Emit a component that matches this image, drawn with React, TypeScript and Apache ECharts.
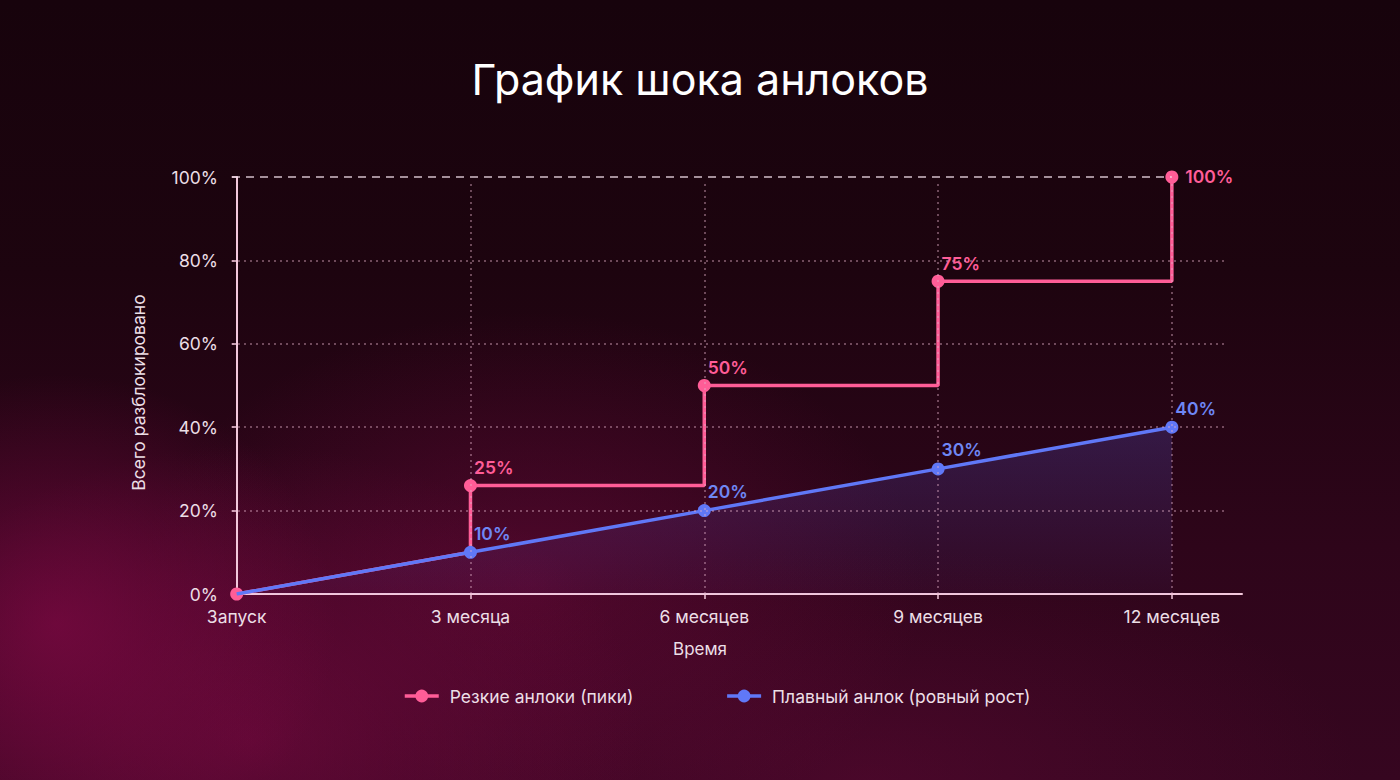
import { useEffect, useRef } from 'react';
import * as echarts from 'echarts';

const TITLE = 'График шока анлоков';
const X_NAME = 'Время';
const Y_NAME = 'Всего разблокировано';

// x axis: months since launch
const tickMonths = [0, 3, 6, 9, 12];
const tickLabels = ['Запуск', '3 месяца', '6 месяцев', '9 месяцев', '12 месяцев'];

// sharp unlocks: step path (vertical jumps at each cliff)
const SHARP_NAME = 'Резкие анлоки (пики)';
const sharpMonths = [0, 3, 3, 6, 6, 9, 9, 12, 12];
const sharpValues = [0, 10, 26, 26, 50, 50, 75, 75, 100];
const sharpDots = [true, false, true, false, true, false, true, false, true];
const sharpLabels = ['', '', '25%', '', '50%', '', '75%', '', '100%'];

// linear unlock
const SMOOTH_NAME = 'Плавный анлок (ровный рост)';
const smoothMonths = [0, 3, 6, 9, 12];
const smoothValues = [0, 10, 20, 30, 40];
const smoothLabels = ['', '10%', '20%', '30%', '40%'];

const gridValues = [20, 40, 60, 80];
const CAP_VALUE = 100;

const PINK = '#ff5d97';
const BLUE = '#6078f7';
const AXIS = '#f3c8dc';
const TEXT = '#ecdfe6';
const GUIDE = 'rgba(225, 175, 200, 0.55)';
const FONT = 'Inter';

const X_MIN = -0.06;
const X_MAX = 12.9;
const H_GUIDE_END = 12.7;
const V_GUIDE_TOP = 98.5;

export default function App() {
  const ref = useRef<HTMLDivElement | null>(null);

  useEffect(() => {
    if (!ref.current) return;
    const chart = echarts.init(ref.current, null, { renderer: 'svg' });

    const labelStyle = (color: string) => ({
      color,
      fontFamily: FONT,
      fontSize: 17.5,
      fontWeight: 600,
    });

    const guideLines = [
      ...gridValues.map(v => [
        { coord: [X_MIN, v], lineStyle: { color: GUIDE, type: [2, 4], width: 1.5 } },
        { coord: [H_GUIDE_END, v] },
      ]),
      ...tickMonths.slice(1).map(m => [
        { coord: [m, 0], lineStyle: { color: GUIDE, type: [2, 4], width: 1.5 } },
        { coord: [m, V_GUIDE_TOP] },
      ]),
      [
        { coord: [X_MIN, CAP_VALUE], lineStyle: { color: 'rgba(245,225,235,0.85)', type: [8, 6], width: 1.5 } },
        { coord: [tickMonths[tickMonths.length - 1], CAP_VALUE] },
      ],
    ];

    chart.setOption({
      backgroundColor: 'transparent',
      animation: false,
      title: {
        text: TITLE,
        left: 'center',
        top: 52,
        textStyle: { color: '#ffffff', fontFamily: FONT, fontSize: 43, fontWeight: 400 },
      },
      grid: { left: 232, right: 158, top: 177, bottom: 186 },
      legend: {
        data: [SHARP_NAME, SMOOTH_NAME],
        left: 398,
        top: 682,
        itemWidth: 34,
        itemHeight: 16,
        itemGap: 92,
        lineStyle: { width: 3.5 },
        textStyle: { color: TEXT, fontFamily: FONT, fontSize: 17.5, padding: [0, 0, 0, 6] },
      },
      graphic: [
        {
          type: 'text',
          x: 700,
          y: 649,
          style: {
            text: X_NAME,
            fill: TEXT,
            font: `17px ${FONT}`,
            textAlign: 'center',
            textVerticalAlign: 'middle',
          },
        },
      ],
      xAxis: {
        type: 'value',
        min: X_MIN,
        max: X_MAX,
        axisLine: { show: true, lineStyle: { color: AXIS, width: 2 } },
        axisTick: { show: true, length: 5, customValues: tickMonths, lineStyle: { color: AXIS, width: 1.5 } },
        axisLabel: {
          customValues: tickMonths,
          formatter: (v: number) => tickLabels[tickMonths.indexOf(v)] ?? '',
          color: TEXT,
          fontFamily: FONT,
          fontSize: 17.5,
          margin: 13,
        },
        splitLine: { show: false },
      },
      yAxis: {
        type: 'value',
        min: 0,
        max: 100,
        interval: 20,
        name: Y_NAME,
        nameLocation: 'middle',
        nameGap: 85,
        nameRotate: 90,
        nameTextStyle: { color: TEXT, fontFamily: FONT, fontSize: 17.5, padding: [0, 14, 0, 0] },
        axisLine: { show: true, lineStyle: { color: AXIS, width: 2 } },
        axisTick: { show: true, length: 5, lineStyle: { color: AXIS, width: 1.5 } },
        axisLabel: { formatter: '{value}%', color: TEXT, fontFamily: FONT, fontSize: 17.5, margin: 14 },
        splitLine: { show: false },
      },
      series: [
        {
          type: 'line',
          data: [],
          silent: true,
          z: 1,
          markLine: {
            silent: true,
            symbol: ['none', 'none'],
            label: { show: false },
            data: guideLines,
          },
        },
        {
          name: SHARP_NAME,
          type: 'line',
          z: 3,
          symbol: 'circle',
          symbolSize: 13,
          color: PINK,
          lineStyle: { color: PINK, width: 3.5 },
          itemStyle: { color: PINK },
          data: sharpMonths.map((m, i) => ({
            value: [m, sharpValues[i]],
            symbol: sharpDots[i] ? 'circle' : 'none',
            label: {
              show: sharpLabels[i] !== '',
              formatter: sharpLabels[i],
              position: 'right',
              offset: i === sharpMonths.length - 1 ? [2, -1] : [-8, -18],
              ...labelStyle(PINK),
            },
          })),
        },
        {
          name: SMOOTH_NAME,
          type: 'line',
          z: 4,
          symbol: 'circle',
          symbolSize: 13,
          color: BLUE,
          lineStyle: { color: BLUE, width: 3.5 },
          itemStyle: { color: BLUE },
          areaStyle: {
            color: new echarts.graphic.LinearGradient(0, 0, 0, 1, [
              { offset: 0, color: 'rgba(100, 95, 235, 0.32)' },
              { offset: 1, color: 'rgba(100, 95, 235, 0.06)' },
            ]),
          },
          data: smoothMonths.map((m, i) => ({
            value: [m, smoothValues[i]],
            symbol: smoothLabels[i] === '' ? 'none' : 'circle',
            label: {
              show: smoothLabels[i] !== '',
              formatter: smoothLabels[i],
              position: 'right',
              offset: [-8, -19],
              ...labelStyle('#6f87f5'),
            },
          })),
        },
      ],
    });

    return () => chart.dispose();
  }, []);

  return (
    <div
      style={{
        position: 'fixed',
        left: 0,
        top: 0,
        width: 1400,
        height: 780,
        background: [
          'radial-gradient(ellipse 20% 32% at 4% 80%, rgba(140, 10, 75, 0.6), rgba(140, 10, 75, 0) 100%)',
          'radial-gradient(ellipse 28% 38% at 18% 95%, rgba(130, 10, 70, 0.55), rgba(130, 10, 70, 0) 100%)',
          'radial-gradient(ellipse 28% 35% at 38% 75%, rgba(120, 10, 65, 0.45), rgba(120, 10, 65, 0) 100%)',
          'radial-gradient(ellipse 35% 30% at 62% 100%, rgba(110, 10, 60, 0.35), rgba(110, 10, 60, 0) 100%)',
          'linear-gradient(180deg, #17030c 0%, #1d040f 35%, #2e051a 70%, #360620 100%)',
        ].join(', '),
      }}
    >
      <div ref={ref} style={{ width: 1400, height: 780 }} />
    </div>
  );
}
